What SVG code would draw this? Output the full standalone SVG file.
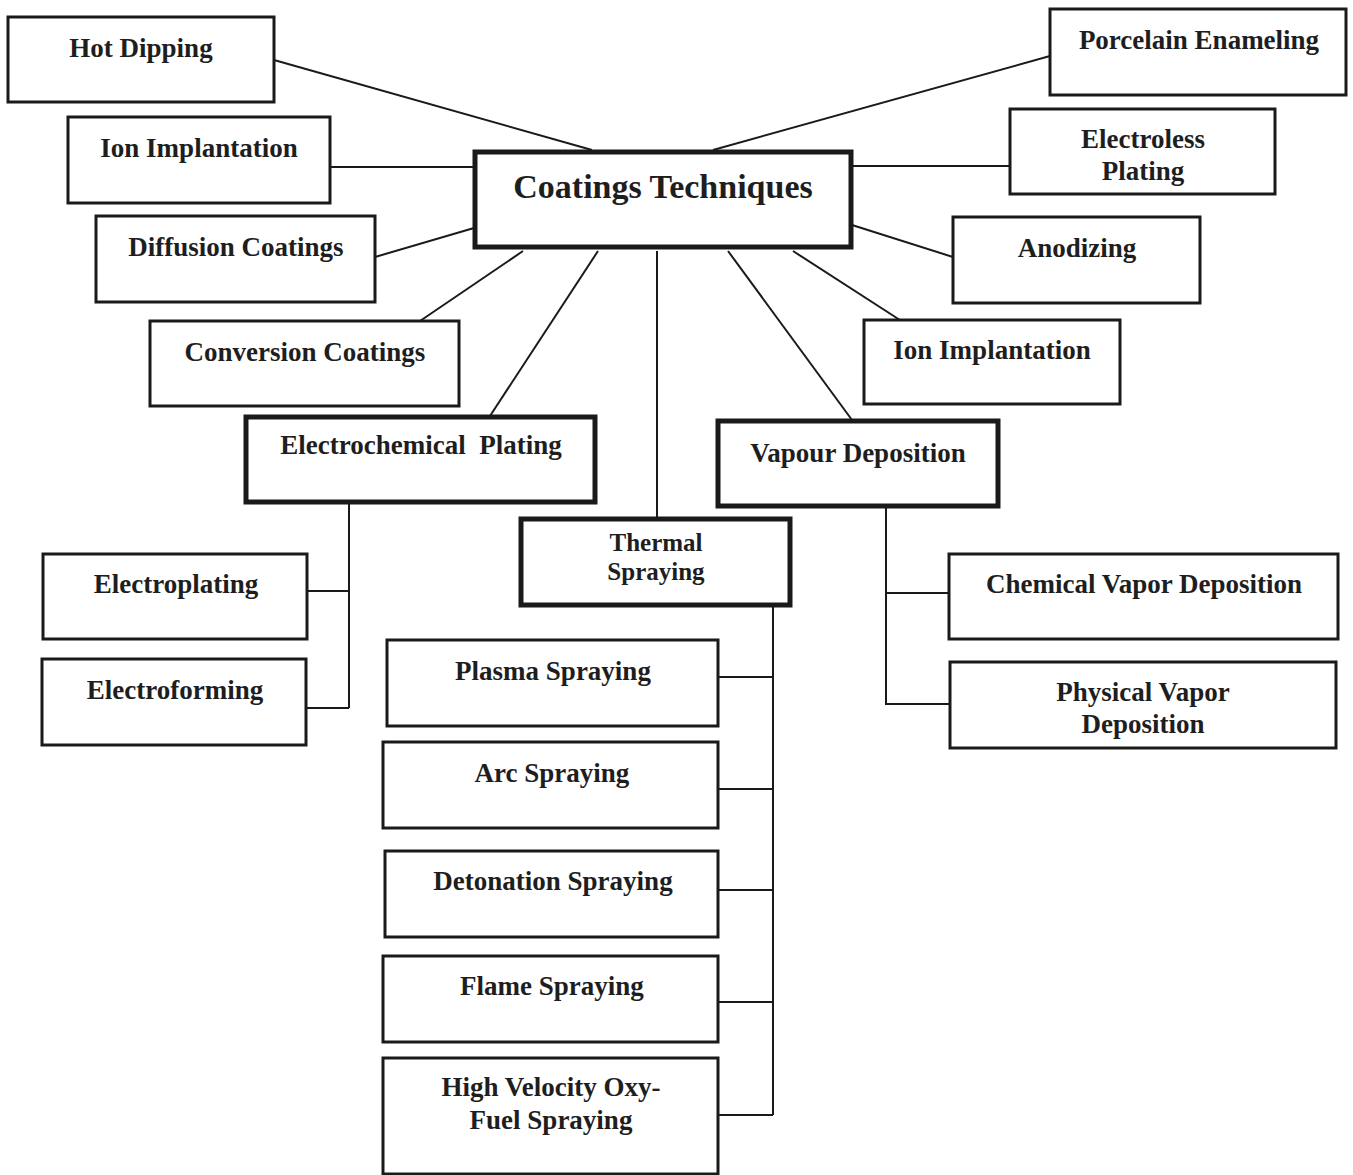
<svg xmlns="http://www.w3.org/2000/svg" width="1353" height="1175" viewBox="0 0 1353 1175">
<style>
.box{fill:#fff;stroke:#1a1a1a;stroke-width:3}
.thick{stroke-width:5}
.lbl{font-family:"Liberation Serif","Times New Roman",serif;font-weight:bold;font-size:27px;fill:#1e1e1e;text-anchor:middle}
.title{font-size:34px}
.tight{font-size:25px}
#connectors line,#connectors polyline{stroke:#1a1a1a;stroke-width:2;fill:none}
</style>
<rect width="1353" height="1175" fill="#fff"/>
<g id="connectors">
<line x1="274" y1="60" x2="592" y2="150"/>
<line x1="330" y1="167" x2="474" y2="167"/>
<line x1="375" y1="257" x2="474" y2="228"/>
<line x1="420" y1="321" x2="523" y2="251"/>
<line x1="490" y1="416" x2="598" y2="251"/>
<line x1="657" y1="251" x2="657" y2="518"/>
<line x1="728" y1="251" x2="852" y2="420"/>
<line x1="793" y1="251" x2="903" y2="322"/>
<line x1="852" y1="225" x2="953" y2="257"/>
<line x1="852" y1="166" x2="1010" y2="166"/>
<line x1="713" y1="150" x2="1050" y2="56"/>
<polyline points="349,503 349,708"/>
<line x1="307" y1="591" x2="349" y2="591"/>
<line x1="306" y1="708" x2="349" y2="708"/>
<polyline points="886,507 886,704 950,704"/>
<line x1="886" y1="593" x2="949" y2="593"/>
<line x1="773" y1="606" x2="773" y2="1115"/>
<line x1="718" y1="677" x2="773" y2="677"/>
<line x1="718" y1="789" x2="773" y2="789"/>
<line x1="718" y1="890" x2="773" y2="890"/>
<line x1="718" y1="1002" x2="773" y2="1002"/>
<line x1="718" y1="1115" x2="773" y2="1115"/>
</g>
<g id="root"><rect class="box thick" x="475" y="152" width="376" height="95"/><text class="lbl title" x="663" y="198">Coatings Techniques</text></g>
<g id="hot-dipping"><rect class="box" x="8" y="17" width="266" height="85"/><text class="lbl" x="141" y="57">Hot Dipping</text></g>
<g id="ion-implantation-left"><rect class="box" x="68" y="117" width="262" height="86"/><text class="lbl" x="199" y="157">Ion Implantation</text></g>
<g id="diffusion-coatings"><rect class="box" x="96" y="216" width="279" height="86"/><text class="lbl" x="236" y="256">Diffusion Coatings</text></g>
<g id="conversion-coatings"><rect class="box" x="150" y="321" width="309" height="85"/><text class="lbl" x="305" y="361">Conversion Coatings</text></g>
<g id="porcelain-enameling"><rect class="box" x="1050" y="9" width="296" height="86"/><text class="lbl" x="1199" y="49">Porcelain Enameling</text></g>
<g id="electroless-plating"><rect class="box" x="1010" y="109" width="265" height="85"/><text class="lbl" x="1143" y="148">Electroless</text><text class="lbl" x="1143" y="180">Plating</text></g>
<g id="anodizing"><rect class="box" x="953" y="217" width="247" height="86"/><text class="lbl" x="1077" y="257">Anodizing</text></g>
<g id="ion-implantation-right"><rect class="box" x="864" y="320" width="256" height="84"/><text class="lbl" x="992" y="359">Ion Implantation</text></g>
<g id="electrochemical-plating"><rect class="box thick" x="246" y="417" width="349" height="85"/><text class="lbl" x="421" y="454" xml:space="preserve">Electrochemical  Plating</text></g>
<g id="vapour-deposition"><rect class="box thick" x="718" y="421" width="280" height="85"/><text class="lbl" x="858" y="462">Vapour Deposition</text></g>
<g id="thermal-spraying"><rect class="box thick" x="521" y="519" width="269" height="86"/><text class="lbl tight" x="656" y="551">Thermal</text><text class="lbl tight" x="656" y="580">Spraying</text></g>
<g id="electroplating"><rect class="box" x="43" y="554" width="264" height="85"/><text class="lbl" x="176" y="593">Electroplating</text></g>
<g id="electroforming"><rect class="box" x="42" y="659" width="264" height="86"/><text class="lbl" x="175" y="699">Electroforming</text></g>
<g id="chemical-vapor-deposition"><rect class="box" x="949" y="554" width="389" height="85"/><text class="lbl" x="1144" y="593">Chemical Vapor Deposition</text></g>
<g id="physical-vapor-deposition"><rect class="box" x="950" y="662" width="386" height="86"/><text class="lbl" x="1143" y="701">Physical Vapor</text><text class="lbl" x="1143" y="733">Deposition</text></g>
<g id="plasma-spraying"><rect class="box" x="387" y="640" width="331" height="86"/><text class="lbl" x="553" y="680">Plasma Spraying</text></g>
<g id="arc-spraying"><rect class="box" x="383" y="742" width="335" height="86"/><text class="lbl" x="552" y="782">Arc Spraying</text></g>
<g id="detonation-spraying"><rect class="box" x="385" y="851" width="333" height="86"/><text class="lbl" x="553" y="890">Detonation Spraying</text></g>
<g id="flame-spraying"><rect class="box" x="383" y="956" width="335" height="86"/><text class="lbl" x="552" y="995">Flame Spraying</text></g>
<g id="hvof-spraying"><rect class="box" x="383" y="1058" width="335" height="116"/><text class="lbl" x="551" y="1096">High Velocity Oxy-</text><text class="lbl" x="551" y="1129">Fuel Spraying</text></g>
</svg>
